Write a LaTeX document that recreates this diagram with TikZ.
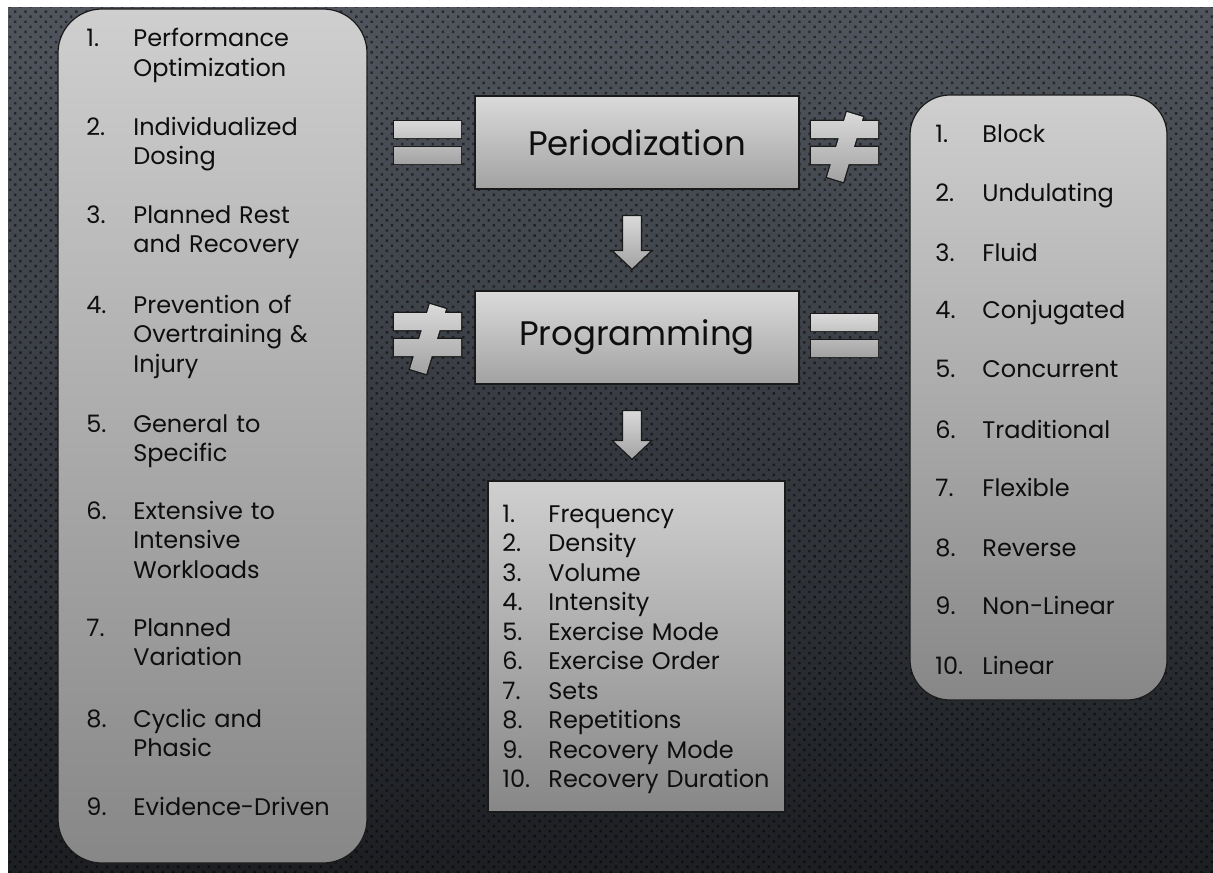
\documentclass[tikz,border=0pt]{standalone}
\usepackage{fontspec}
\setmainfont{Poppins}
\usepackage{xcolor}
\definecolor{slide-top}{HTML}{50555D}
\definecolor{slide-bottom}{HTML}{1C1E22}
\definecolor{panel-light}{HTML}{CFCFCF}
\definecolor{panel-dark}{HTML}{878787}
\definecolor{title-light}{HTML}{DADADA}
\definecolor{title-dark}{HTML}{A2A2A2}
\definecolor{edge-dark}{HTML}{1A1A1A}
\definecolor{ink}{HTML}{0E0E0E}
\usetikzlibrary{calc,patterns.meta}

\tikzset{
  panel/.style={draw=edge-dark, line width=0.6pt, top color=panel-light,
    bottom color=panel-dark, inner sep=0pt},
  titlebox/.style={draw=edge-dark, line width=0.6pt, top color=title-light,
    bottom color=title-dark, minimum width=162pt, minimum height=46.5pt,
    font=\fontsize{17}{20}\selectfont, text=ink},
  itemnum/.style={anchor=base west, inner sep=0pt, text=ink,
    font=\fontsize{12}{14.75}\selectfont},
  itemtext/.style={itemnum, text width=115pt, align=left},
  symbol edge/.style={draw=edge-dark, line width=1.3pt},
  symbol fill/.style={top color=title-light, bottom color=title-dark},
}

% equal sign, #1/#2 = top left of the upper bar
\newcommand{\equalsign}[2]{%
  \begin{scope}[shift={(#1,#2)}]
    \draw[symbol edge] (0,0) rectangle (67,17) (0,26) rectangle (67,43);
    \shade[symbol fill] (0,0) rectangle (67,17) (0,26) rectangle (67,43);
  \end{scope}}

% not-equal sign, same origin as above
\newcommand{\notequalsign}[2]{%
  \begin{scope}[shift={(#1,#2)}]
    \draw[symbol edge] (0,0) rectangle (67,17) (0,26) rectangle (67,43)
      (52,-4) -- (35.8,-9) -- (16,56) -- (32.2,61) -- cycle;
    \shade[symbol fill] (0,0) rectangle (67,17) (0,26) rectangle (67,43)
      (52,-4) -- (35.8,-9) -- (16,56) -- (32.2,61) -- cycle;
  \end{scope}}

% fat arrow from one box down to the next
\newcommand{\blockarrow}[2]{%
  \coordinate (tail) at ([xshift=-2.5pt,yshift=-13pt]#1.south);
  \coordinate (tip) at ([xshift=-2.5pt,yshift=10.5pt]#2.north);
  \shadedraw[draw=edge-dark, line width=0.6pt, top color=title-light,
    bottom color=title-dark] let \p1=(tail), \p2=(tip) in
    (\x1-4.75pt,\y1) -- (\x1+4.75pt,\y1) -- (\x1+4.75pt,\y2+9.5pt)
    -- (\x1+10pt,\y2+9.5pt) -- (\x1,\y2) -- (\x1-10pt,\y2+9.5pt)
    -- (\x1-4.75pt,\y2+9.5pt) -- cycle;}

\begin{document}
\begin{tikzpicture}[x=0.5pt, y=-0.5pt]

    % Slide
    \useasboundingbox (0,0) rectangle (1213,872);
    \fill[white] (0,0) rectangle (1213,872);
    \shade[top color=slide-top, bottom color=slide-bottom] (8,8) rectangle (1213,872);
    \fill[pattern={Dots[distance=3.6pt, radius=0.85pt, angle=45]},
      pattern color=black, fill opacity=0.5] (8,8) rectangle (1213,872);

    % Panels
    \node[panel, rounded corners=22pt, minimum width=154.5pt,
      minimum height=427pt] (principles) at (212.5,436) {};
    \node[panel, rounded corners=20pt, minimum width=128.5pt,
      minimum height=302.5pt] (models) at (1038.5,397.5) {};
    \node[panel, minimum width=148.5pt, minimum height=165.5pt,
      top color=title-light!95!black] (variables) at (636.5,646.5) {};

    % Titles
    \node[titlebox] (periodization) at (637,142.5) {Periodization};
    \node[titlebox] (programming) at (637,337.5) {Programming};

    % Signs
    \equalsign{394}{121}
    \notequalsign{811}{121}
    \notequalsign{394}{313}
    \equalsign{811}{314}

    % Arrows
    \blockarrow{periodization}{programming}
    \blockarrow{programming}{variables}

    % Principles
    \foreach \n/\y/\t in {1/47/{Performance\\Optimization},
        2/135/{Individualized\\Dosing}, 3/223/{Planned Rest\\and Recovery},
        4/313/{Prevention of\\Overtraining \&\\Injury},
        5/432/{General to\\Specific}, 6/519/{Extensive to\\Intensive\\Workloads},
        7/636/{Planned\\Variation}, 8/727/{Cyclic and\\Phasic},
        9/815/{Evidence-Driven}}{
      \node[itemnum] (pnum\n) at (86,\y) {\n.};
      \node[itemtext] (pitem\n) at (133,\y) {\t};
    }

    % Models
    \foreach \n/\y/\t in {1/142/Block, 2/201/Undulating, 3/261/Fluid,
        4/318/Conjugated, 5/377/Concurrent, 6/438/Traditional,
        7/496/Flexible, 8/556/Reverse, 9/614/Non-Linear, 10/674/Linear}{
      \node[itemnum] (mnum\n) at (935,\y) {\n.};
      \node[itemtext] (mitem\n) at (982,\y) {\t};
    }

    % Variables
    \foreach \n/\t [evaluate=\n as \y using 522+29.55*(\n-1)] in {1/Frequency,
        2/Density, 3/Volume, 4/Intensity, 5/Exercise Mode, 6/Exercise Order,
        7/Sets, 8/Repetitions, 9/Recovery Mode, 10/Recovery Duration}{
      \node[itemnum] (vnum\n) at (502,\y) {\n.};
      \node[itemtext] (vitem\n) at (548,\y) {\t};
    }

\end{tikzpicture}
\end{document}
